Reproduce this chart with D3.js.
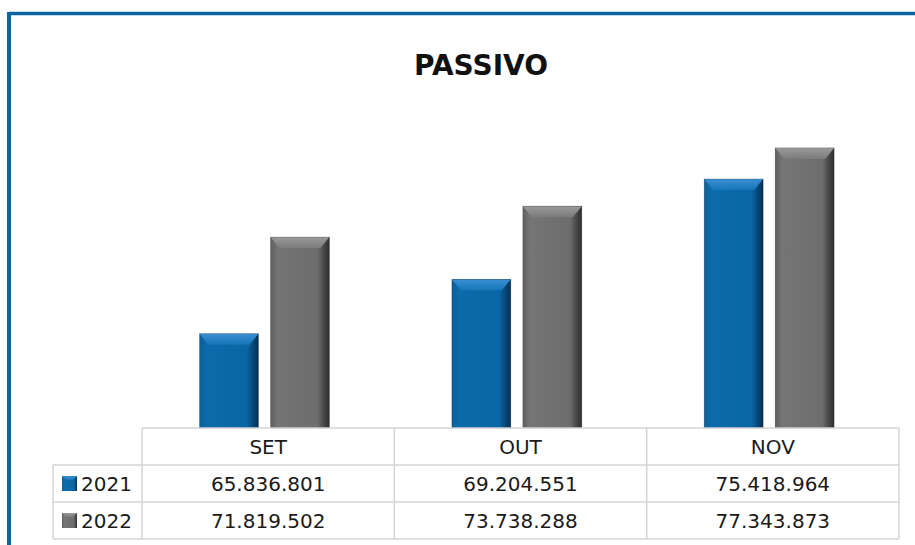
<!DOCTYPE html>
<html><head><meta charset="utf-8">
<script src="https://cdn.jsdelivr.net/npm/d3@7"></script>
<style>body{margin:0;background:#fff}svg{display:block}</style>
</head><body>
<script>
const categories = ["SET", "OUT", "NOV"];
const seriesNames = ["2021", "2022"];
const values2021 = [65836801, 69204551, 75418964];
const values2022 = [71819502, 73738288, 77343873];
const tableLabels2021 = ["65.836.801", "69.204.551", "75.418.964"];
const tableLabels2022 = ["71.819.502", "73.738.288", "77.343.873"];

const W = 915, H = 545;
const svg = d3.select("body").append("svg").attr("width", W).attr("height", H);
const defs = svg.append("defs");

function grad(id, stops, x2, y2) {
  const g = defs.append("linearGradient").attr("id", id)
    .attr("x1", 0).attr("y1", 0).attr("x2", x2).attr("y2", y2);
  stops.forEach(s => g.append("stop").attr("offset", s[0]).attr("stop-color", s[1]));
}
grad("gBlue", [[0, "#0d5f98"], [0.12, "#0b6bab"], [0.8, "#0a66a4"], [0.9, "#08497a"], [1, "#062f52"]], 1, 0);
grad("gGray", [[0, "#5f5f5f"], [0.12, "#757575"], [0.8, "#6d6d6d"], [0.9, "#4a4a4a"], [1, "#2e2e2e"]], 1, 0);
grad("gBlueTop", [[0, "#3b8fd0"], [1, "#1676ba"]], 0, 1);
grad("gGrayTop", [[0, "#9a9a9a"], [1, "#7b7b7b"]], 0, 1);

const colors = {"2021": {body: "url(#gBlue)", top: "url(#gBlueTop)"},
                "2022": {body: "url(#gGray)", top: "url(#gGrayTop)"}};

// frame
svg.append("line").attr("x1", 9).attr("y1", 13.5).attr("x2", W).attr("y2", 13.5)
  .attr("stroke", "#0a64a0").attr("stroke-width", 3.5);
svg.append("line").attr("x1", 9).attr("y1", 12).attr("x2", 9).attr("y2", H)
  .attr("stroke", "#0a64a0").attr("stroke-width", 4);

svg.append("text").attr("x", 481).attr("y", 75).attr("text-anchor", "middle")
  .attr("font-family", "DejaVu Sans, sans-serif").attr("font-weight", "bold")
  .attr("font-size", 28).attr("fill", "#111").text("PASSIVO");

const tableLeft = 53, colLeft = 142, right = 899;
const x0 = d3.scaleBand().domain(categories).range([colLeft, right]).paddingInner(0).paddingOuter(0);
const x1 = d3.scaleBand().domain(seriesNames).range([0, x0.bandwidth()]).paddingInner(0.169).paddingOuter(0.862).align(0.47);
const y = d3.scaleLinear().domain([60000000, 80000000]).range([428, 105]);

const data = categories.map((c, i) => ({cat: c, vals: [
  {s: "2021", v: values2021[i]}, {s: "2022", v: values2022[i]}]}));

const g = svg.append("g");
data.forEach(d => {
  d.vals.forEach(b => {
    const bx = x0(d.cat) + x1(b.s), bw = x1.bandwidth();
    const by = y(b.v), bh = y.range()[0] - by;
    const bev = 11, sb = 9;
    g.append("rect").attr("x", bx).attr("y", by).attr("width", bw).attr("height", bh)
      .attr("fill", colors[b.s].body);
    g.append("polygon")
      .attr("points", [[bx, by], [bx + bw, by], [bx + bw - sb, by + bev], [bx + sb, by + bev]].map(p => p.join(",")).join(" "))
      .attr("fill", colors[b.s].top);
    g.append("rect").attr("x", bx).attr("y", by).attr("width", bw).attr("height", bh)
      .attr("fill", "none").attr("stroke", "rgba(0,0,0,0.25)").attr("stroke-width", 0.8);
  });
});

// data table
const rows = [428, 465, 502, 539];
const gridColor = "#d4d4d4";
const tg = svg.append("g").attr("stroke", gridColor).attr("stroke-width", 1.5);
tg.append("line").attr("x1", colLeft).attr("x2", right).attr("y1", rows[0]).attr("y2", rows[0]);
[1, 2, 3].forEach(r => tg.append("line").attr("x1", tableLeft).attr("x2", right).attr("y1", rows[r]).attr("y2", rows[r]));
tg.append("line").attr("x1", tableLeft).attr("x2", tableLeft).attr("y1", rows[1]).attr("y2", rows[3]);
categories.forEach(c => tg.append("line").attr("x1", x0(c)).attr("x2", x0(c)).attr("y1", rows[0]).attr("y2", rows[3]));
tg.append("line").attr("x1", right).attr("x2", right).attr("y1", rows[0]).attr("y2", rows[3]);

const font = "DejaVu Sans, sans-serif";
const fs = 20;
categories.forEach(c => svg.append("text").attr("x", x0(c) + x0.bandwidth() / 2).attr("y", (rows[0] + rows[1]) / 2 + 7)
  .attr("text-anchor", "middle").attr("font-family", font).attr("font-size", fs).attr("fill", "#1a1a1a").text(c));
[tableLabels2021, tableLabels2022].forEach((labels, r) => {
  labels.forEach((t, i) => svg.append("text").attr("x", x0(categories[i]) + x0.bandwidth() / 2)
    .attr("y", (rows[r + 1] + rows[r + 2]) / 2 + 7).attr("text-anchor", "middle")
    .attr("font-family", font).attr("font-size", fs).attr("fill", "#1a1a1a").text(t));
  const s = seriesNames[r];
  const ky = (rows[r + 1] + rows[r + 2]) / 2 - 7.5;
  svg.append("rect").attr("x", 62).attr("y", ky).attr("width", 15).attr("height", 15).attr("fill", colors[s].body);
  svg.append("polygon").attr("points", `62,${ky} 77,${ky} 73,${ky+4} 66,${ky+4}`).attr("fill", colors[s].top);
  svg.append("text").attr("x", 81).attr("y", (rows[r + 1] + rows[r + 2]) / 2 + 7)
    .attr("font-family", font).attr("font-size", fs).attr("fill", "#1a1a1a").text(s);
});
</script>
</body></html>
